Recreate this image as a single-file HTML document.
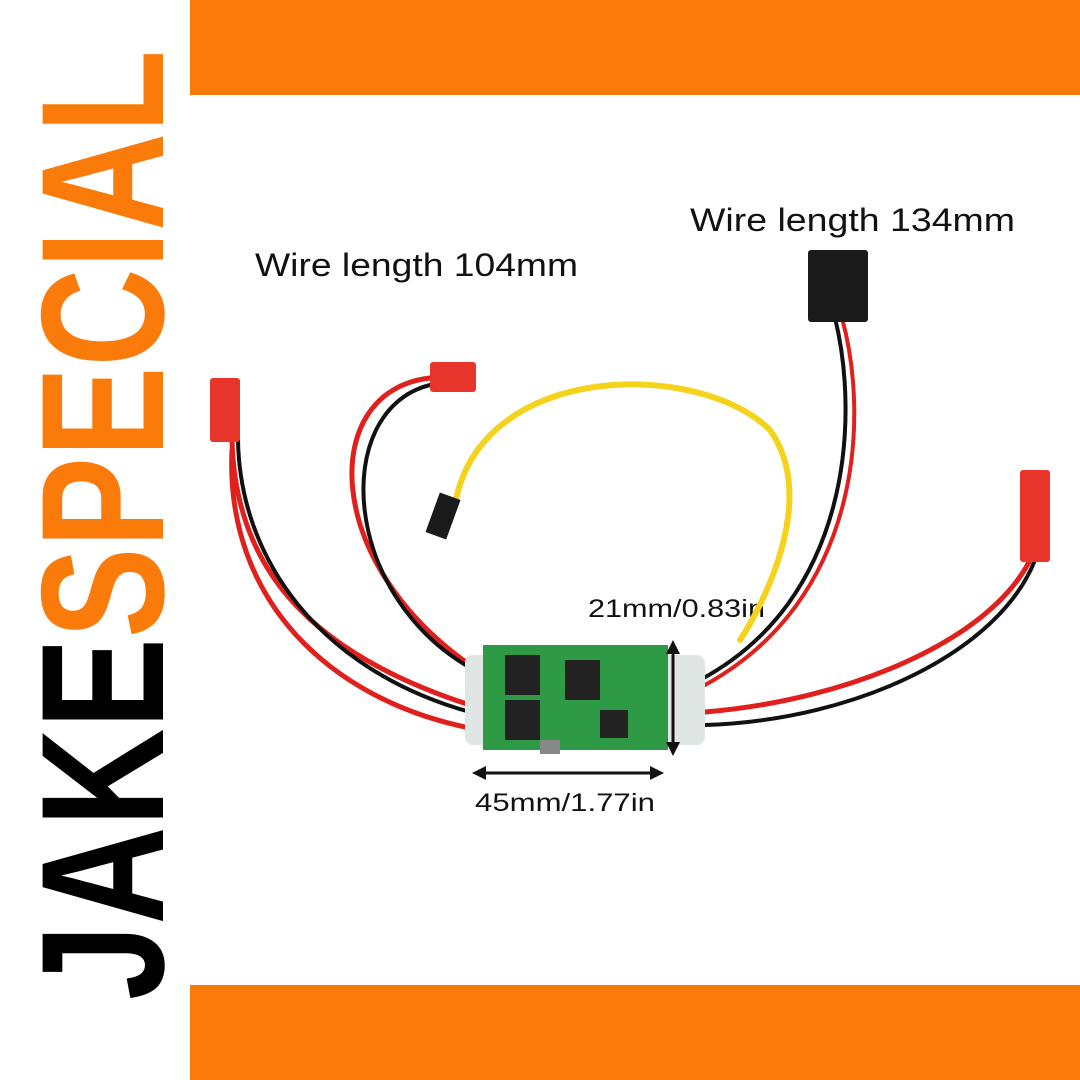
<!DOCTYPE html>
<html><head><style>
html,body{margin:0;padding:0;background:#fff}
svg{display:block}
</style></head><body>
<svg width="1080" height="1080" viewBox="0 0 1080 1080" xmlns="http://www.w3.org/2000/svg">
<rect width="1080" height="1080" fill="#fff"/>
<rect x="190" y="0" width="890" height="95" fill="#fb7b0a"/>
<rect x="190" y="985" width="890" height="95" fill="#fb7b0a"/>
<text transform="translate(163,1000) rotate(-90)" font-family="Liberation Sans, sans-serif" font-weight="bold" font-size="175" textLength="950" lengthAdjust="spacingAndGlyphs"><tspan fill="#000">JAKE</tspan><tspan fill="#fb7b0a">SPECIAL</tspan></text>

<g font-family="Liberation Sans, sans-serif" fill="#111">
<text x="255" y="276" font-size="32" textLength="323" lengthAdjust="spacingAndGlyphs">Wire length 104mm</text>
<text x="690" y="231" font-size="32" textLength="325" lengthAdjust="spacingAndGlyphs">Wire length 134mm</text>
<text x="588" y="617" font-size="25" textLength="177" lengthAdjust="spacingAndGlyphs">21mm/0.83in</text>
<text x="475" y="811" font-size="25" textLength="180" lengthAdjust="spacingAndGlyphs">45mm/1.77in</text>
</g>

<g fill="none" stroke-linecap="round">
<path d="M232 440 C235 560 300 650 470 705" stroke="#e0201c" stroke-width="5"/>
<path d="M238 440 C240 560 320 670 470 712" stroke="#111" stroke-width="4"/>
<path d="M232 450 C225 600 330 700 470 728" stroke="#e0201c" stroke-width="5"/>
<path d="M430 378 C320 390 320 560 470 665" stroke="#e0201c" stroke-width="5"/>
<path d="M430 385 C330 410 340 600 478 672" stroke="#111" stroke-width="4"/>
<path d="M455 505 C480 360 700 360 770 430 C820 500 760 610 740 640" stroke="#f5d21b" stroke-width="6"/>
<path d="M835 318 C860 420 850 600 700 680" stroke="#111" stroke-width="4"/>
<path d="M842 318 C870 420 860 600 705 685" stroke="#e0201c" stroke-width="4"/>
<path d="M1030 560 C990 640 850 700 705 712" stroke="#e0201c" stroke-width="5"/>
<path d="M1035 560 C1000 650 860 720 705 725" stroke="#111" stroke-width="4"/>
</g>
<rect x="210" y="378" width="30" height="64" fill="#e8352b" rx="3"/>
<rect x="430" y="362" width="46" height="30" fill="#e8352b" rx="3"/>
<rect x="1020" y="470" width="30" height="92" fill="#e8352b" rx="3"/>
<rect x="808" y="250" width="60" height="72" fill="#1a1a1a" rx="3"/>
<rect x="432" y="495" width="22" height="42" fill="#1a1a1a" transform="rotate(20 443 516)"/>
<rect x="465" y="655" width="240" height="90" fill="#dfe6e4" rx="8"/>
<rect x="483" y="645" width="185" height="105" fill="#2e9a45"/>
<rect x="505" y="655" width="35" height="40" fill="#222"/>
<rect x="505" y="700" width="35" height="40" fill="#222"/>
<rect x="565" y="660" width="35" height="40" fill="#222"/>
<rect x="600" y="710" width="28" height="28" fill="#222"/>
<rect x="540" y="740" width="20" height="14" fill="#888"/>
<g stroke="#111" stroke-width="3" fill="#111">
<line x1="673" y1="648" x2="673" y2="748"/>
<polygon points="673,640 666,654 680,654" stroke="none"/>
<polygon points="673,756 666,742 680,742" stroke="none"/>
<line x1="480" y1="773" x2="656" y2="773"/>
<polygon points="472,773 486,766 486,780" stroke="none"/>
<polygon points="664,773 650,766 650,780" stroke="none"/>
</g>
</svg>
</body></html>
